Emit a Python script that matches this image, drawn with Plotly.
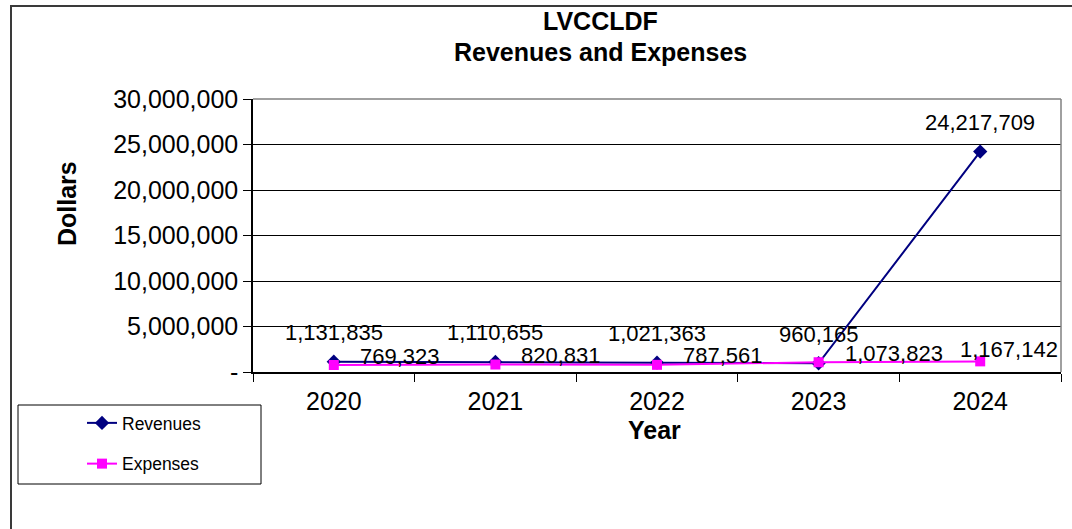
import plotly.graph_objects as go

# ---- data ----
years = ["2020", "2021", "2022", "2023", "2024"]
revenues = [1131835, 1110655, 1021363, 960165, 24217709]
expenses = [769323, 820831, 787561, 1073823, 1167142]
y_tick_vals = [0, 5000000, 10000000, 15000000, 20000000, 25000000, 30000000]
y_tick_text = ["-", "5,000,000", "10,000,000", "15,000,000", "20,000,000", "25,000,000", "30,000,000"]

# ---- geometry helpers ----
W, H = 1072, 529
L, R, T, B = 253, 11, 99, 157
PW, PH = W - L - R, H - T - B


def px(x):
    return (x - L) / PW


def py(y):
    return (H - B - y) / PH


FONT = "Liberation Sans, Arial, sans-serif"
NAVY = "#000080"
MAGENTA = "#FF00FF"

fig = go.Figure()
fig.add_trace(go.Scatter(
    x=years, y=revenues, name="Revenues", mode="lines+markers",
    line=dict(color=NAVY, width=2),
    marker=dict(symbol="diamond", size=11, color=NAVY),
    legendgroup="a",
))
fig.add_trace(go.Scatter(
    x=years, y=expenses, name="Expenses", mode="lines+markers",
    line=dict(color=MAGENTA, width=2),
    marker=dict(symbol="square", size=10, color=MAGENTA),
    legendgroup="b",
))

LABEL_FONT = dict(family=FONT, size=22, color="black")
annotations = []
for i, v in enumerate(revenues):
    annotations.append(dict(x=i, y=v, xref="x", yref="y", text=f"{v:,}",
                            showarrow=False, xanchor="center", yanchor="middle",
                            yshift=29, font=LABEL_FONT))
for i, v in enumerate(expenses):
    last = i == len(expenses) - 1
    annotations.append(dict(x=i, y=v, xref="x", yref="y", text=f"{v:,}",
                            showarrow=False,
                            xanchor="right" if last else "left",
                            xshift=80 if last else 24,
                            yanchor="middle", yshift=12 if last else 9,
                            font=LABEL_FONT))

TITLE_FONT = dict(family=FONT, size=25, color="black")
annotations.append(dict(x=px(600), y=py(21), xref="paper", yref="paper", text="<b>LVCCLDF</b>",
                        showarrow=False, xanchor="center", yanchor="middle", font=TITLE_FONT))
annotations.append(dict(x=px(600), y=py(52), xref="paper", yref="paper",
                        text="<b>Revenues and Expenses</b>",
                        showarrow=False, xanchor="center", yanchor="middle", font=TITLE_FONT))
annotations.append(dict(x=px(67), y=py(204), xref="paper", yref="paper", text="<b>Dollars</b>",
                        showarrow=False, textangle=-90, xanchor="center", yanchor="middle",
                        font=TITLE_FONT))
annotations.append(dict(x=px(654), y=py(430), xref="paper", yref="paper", text="<b>Year</b>",
                        showarrow=False, xanchor="center", yanchor="middle", font=TITLE_FONT))

shapes = [
    dict(type="rect", xref="paper", yref="paper", x0=px(11), x1=px(1090), y0=py(6), y1=py(560),
         line=dict(color="#3a3a3a", width=2), layer="below"),
    dict(type="line", xref="paper", yref="paper", x0=0, x1=1, y0=1, y1=1,
         line=dict(color="#808080", width=1.5)),
    dict(type="line", xref="paper", yref="paper", x0=1, x1=1, y0=0, y1=1,
         line=dict(color="#808080", width=1.5)),
    dict(type="rect", xref="paper", yref="paper", x0=px(18), x1=px(261), y0=py(405), y1=py(484),
         line=dict(color="black", width=1)),
]

fig.update_layout(
    width=W, height=H,
    margin=dict(l=L, r=R, t=T, b=B, pad=0),
    paper_bgcolor="white", plot_bgcolor="white",
    font=dict(family=FONT, size=20, color="black"),
    showlegend=True,
    legend=dict(x=px(82), y=py(405), xanchor="left", yanchor="top",
                font=dict(family=FONT, size=17.5, color="black"),
                bgcolor="rgba(0,0,0,0)", borderwidth=0,
                traceorder="grouped", tracegroupgap=15),
    annotations=annotations,
    shapes=shapes,
)
fig.update_xaxes(
    type="category", range=[-0.5, 4.5],
    showline=True, linecolor="black", linewidth=1.5,
    ticks="outside", tickson="boundaries", ticklen=8, tickcolor="black",
    ticklabelstandoff=6,
    showgrid=False, zeroline=False,
    tickfont=dict(family=FONT, size=25, color="black"),
)
fig.update_yaxes(
    range=[0, 30000000], tickvals=y_tick_vals, ticktext=y_tick_text,
    showline=True, linecolor="black", linewidth=1.5,
    ticks="outside", ticklen=8, tickcolor="black",
    showgrid=True, gridcolor="black", gridwidth=1, zeroline=False,
    tickfont=dict(family=FONT, size=25, color="black"),
)

fig.write_html("out.html")
